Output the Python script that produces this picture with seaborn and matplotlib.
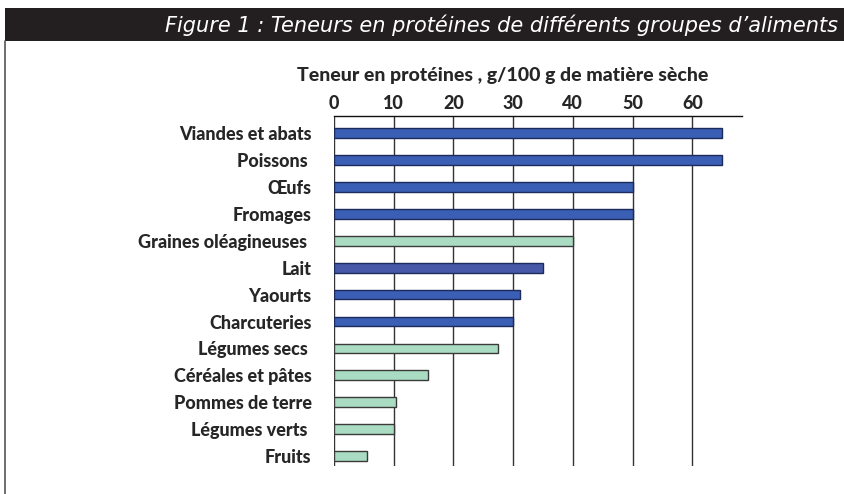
import matplotlib
matplotlib.use("Agg")
import numpy as np
import pandas as pd
import seaborn as sns
import matplotlib.pyplot as plt
from matplotlib.patches import Rectangle
from matplotlib.lines import Line2D

# values
aliments = ["Viandes et abats", "Poissons ", "Œufs", "Fromages", "Graines oléagineuses ",
            "Lait", "Yaourts", "Charcuteries", "Légumes secs ", "Céréales et pâtes",
            "Pommes de terre", "Légumes verts ", "Fruits"]
proteines = [65, 65, 50, 50, 40, 35, 31.2, 30, 27.4, 15.8, 10.4, 10, 5.6]
origine = ["animal", "animal", "animal", "animal", "vegetal", "animal", "animal",
           "animal", "vegetal", "vegetal", "vegetal", "vegetal", "vegetal"]
ticks_x = [0, 10, 20, 30, 40, 50, 60]

BLUE = "#3b5fb4"
LAIT = "#4758a8"
GREEN = "#a9dcc2"

df = pd.DataFrame({"aliment": aliments, "proteines": proteines, "origine": origine})
couleurs = {a: (LAIT if a == "Lait" else (BLUE if o == "animal" else GREEN))
            for a, o in zip(aliments, origine)}

sns.set_style("white")
plt.rcParams["font.family"] = ["Lato", "DejaVu Sans"]

fig = plt.figure(figsize=(8.45, 4.94), dpi=100)
ax = fig.add_axes([0.395, 0.0567, 0.483, 0.708])

sns.barplot(data=df, y="aliment", x="proteines", hue="aliment", palette=couleurs,
            orient="h", width=0.36, legend=False, ax=ax, saturation=1)
for p in ax.patches:
    fc = p.get_facecolor()
    p.set_edgecolor("#3a3a3a" if fc[1] > 0.7 else "#1c2a5c")
    p.set_linewidth(1.0)
    p.set_zorder(3)

FS = 13
ax.set_xlim(0, 68.3)
ax.set_ylim(12.37, -0.63)
ax.xaxis.tick_top()
ax.xaxis.set_label_position("top")
ax.set_xticks(ticks_x)
ax.set_xticklabels([str(t) for t in ticks_x], fontsize=FS, fontweight="black")
ax.set_xlabel("Teneur en protéines , g/100 g de matière sèche", fontsize=14,
              fontweight="black")
ax.xaxis.set_label_coords(0.415, 1.10)
ax.set_ylabel("")
ax.tick_params(axis="x", length=0, pad=3)
ax.set_yticks(range(len(aliments)))
ax.set_yticklabels(aliments, fontsize=FS, fontweight="black")
ax.tick_params(axis="y", which="major", length=0, pad=16)
ax.set_yticks(np.arange(len(aliments) + 1) - 0.63, minor=True)
ax.tick_params(axis="y", which="minor", length=5, width=0.8, color="#222222")

for t in ticks_x:
    ax.axvline(t, color="#333333", lw=1.0, zorder=1)
for s in ["right", "bottom", "left"]:
    ax.spines[s].set_visible(False)
ax.spines["top"].set_color("#111111")
ax.spines["top"].set_linewidth(1.0)

# title band and left frame line
fig.patches.append(Rectangle((5 / 845, 1 - 41 / 494), 1, 33 / 494, transform=fig.transFigure,
                             facecolor="#231f20", edgecolor="none"))
fig.lines.append(Line2D([5 / 845, 5 / 845], [0, 1 - 41 / 494], transform=fig.transFigure,
                        color="#555555", lw=1.2))
fig.text(838 / 845, 1 - 25 / 494, "Figure 1 : Teneurs en protéines de différents groupes d\u2019aliments",
         color="white", fontsize=15, style="italic", ha="right", va="center",
         family=["Liberation Sans Narrow", "DejaVu Sans"])

fig.savefig("out.png", dpi=100, facecolor="white")
